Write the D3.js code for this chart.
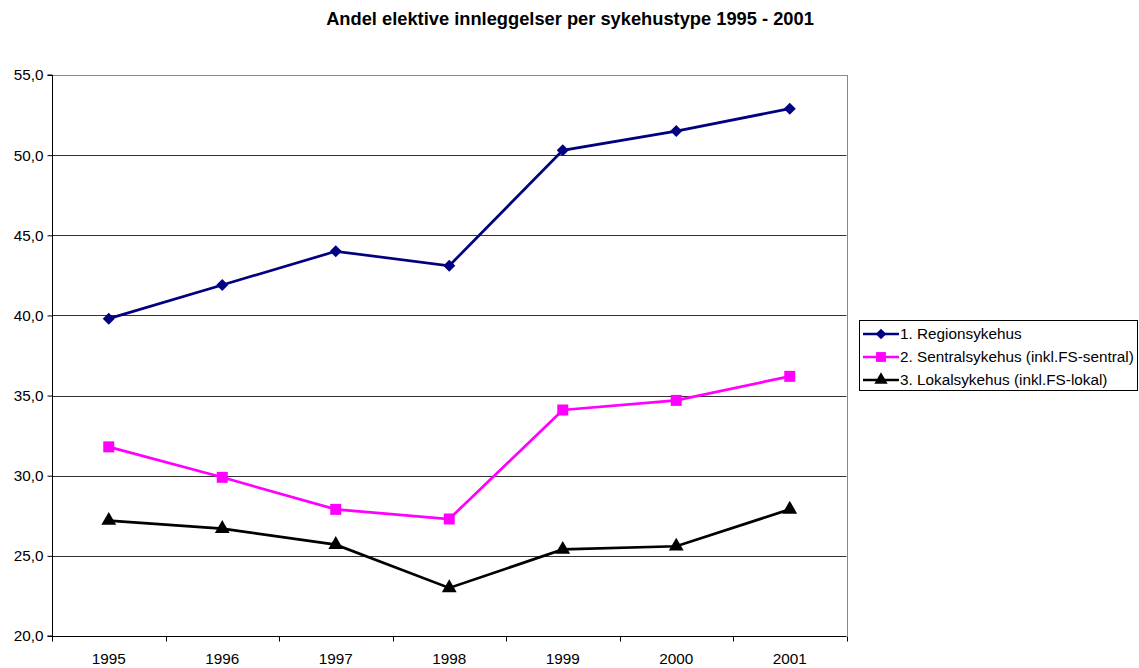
<!DOCTYPE html>
<html><head><meta charset="utf-8">
<script src="https://cdn.jsdelivr.net/npm/d3@7"></script>
<style>body{margin:0;background:#fff}svg{display:block;font-family:Arial,"Liberation Sans",sans-serif}</style>
</head><body><svg id="c" width="1139" height="668"></svg>
<script>
const years = ["1995","1996","1997","1998","1999","2000","2001"];
const region = [39.8, 41.9, 44.0, 43.1, 50.3, 51.5, 52.9];
const sentral = [31.8, 29.9, 27.9, 27.3, 34.1, 34.7, 36.2];
const lokal = [27.2, 26.7, 25.7, 23.0, 25.4, 25.6, 27.9];
const yTicks = [20,25,30,35,40,45,50,55];
const seriesNames = ["1. Regionsykehus","2. Sentralsykehus (inkl.FS-sentral)","3. Lokalsykehus (inkl.FS-lokal)"];
const seriesColors = ["#000080","#FF00FF","#000000"];
const seriesShapes = [d3.symbolSquare, d3.symbolSquare, d3.symbolTriangle];
const seriesRot = [45, 0, 0];
const seriesData = [region, sentral, lokal];

const svg = d3.select("#c");
const L=52, R=846.5, T=75, B=636;
const FS = 15.3;
const x = d3.scaleBand().domain(years).range([L,R]);
const y = d3.scaleLinear().domain([20,55]).range([B,T]);

svg.append("text").attr("x",570).attr("y",25).attr("text-anchor","middle")
  .attr("font-weight","bold").attr("font-size",18.3).text("Andel elektive innleggelser per sykehustype 1995 - 2001");

// gridlines
svg.append("g").selectAll("line").data(yTicks.slice(1)).join("line")
  .attr("x1",L).attr("x2",R).attr("y1",d=>Math.round(y(d))+0.5).attr("y2",d=>Math.round(y(d))+0.5)
  .attr("stroke","#333").attr("stroke-width",1);
svg.append("line").attr("x1",Math.round(R)+0.5).attr("x2",Math.round(R)+0.5).attr("y1",T).attr("y2",B).attr("stroke","#888");
svg.append("line").attr("x1",L).attr("x2",R).attr("y1",T+0.5).attr("y2",T+0.5).attr("stroke","#888");

// y axis
const ya = svg.append("g").attr("transform",`translate(${L+0.5},0)`)
  .call(d3.axisLeft(y).tickValues(yTicks).tickSize(5).tickPadding(4).tickFormat(d=>d3.format(".1f")(d).replace(".",",")));
ya.select(".domain").attr("stroke","#000").attr("d",`M-5,${B}H0V${T}H-5`);
ya.selectAll("text").attr("font-size",FS).attr("font-family","Arial,'Liberation Sans',sans-serif").attr("fill","#000");
ya.selectAll(".tick line").attr("stroke","#000");

// x axis
const xa = svg.append("g").attr("transform",`translate(0,${B+0.5})`);
xa.append("line").attr("x1",L).attr("x2",R).attr("stroke","#000");
const bounds = years.map(d=>x(d)).concat([R]);
xa.selectAll("line.t").data(bounds).join("line").attr("class","t")
  .attr("x1",d=>Math.round(d)+0.5).attr("x2",d=>Math.round(d)+0.5).attr("y1",0).attr("y2",5).attr("stroke","#000");
xa.selectAll("text").data(years).join("text").attr("x",d=>x(d)+x.bandwidth()/2).attr("y",27)
  .attr("text-anchor","middle").attr("font-size",FS).text(d=>d);

const line = d3.line().x((d,i)=>x(years[i])+x.bandwidth()/2).y(d=>y(d));
const sizes=[72,121,95];
seriesData.forEach((s,k)=>{
  svg.append("path").datum(s).attr("d",line).attr("fill","none").attr("stroke",seriesColors[k]).attr("stroke-width",2.7);
  svg.append("g").selectAll("path").data(s).join("path")
    .attr("transform",(d,i)=>`translate(${x(years[i])+x.bandwidth()/2},${y(d)}) rotate(${seriesRot[k]})`)
    .attr("d",d3.symbol().type(seriesShapes[k]).size(sizes[k])).attr("fill",seriesColors[k]);
});

// legend
const lg = svg.append("g");
lg.append("rect").attr("x",859.5).attr("y",320.5).attr("width",278).attr("height",70).attr("fill","#fff").attr("stroke","#000");
seriesNames.forEach((n,k)=>{
  const yy = 334 + k*23;
  lg.append("line").attr("x1",863).attr("x2",899).attr("y1",yy).attr("y2",yy).attr("stroke",seriesColors[k]).attr("stroke-width",2.7);
  lg.append("path").attr("transform",`translate(881,${yy}) rotate(${seriesRot[k]})`).attr("d",d3.symbol().type(seriesShapes[k]).size(sizes[k]*0.8)).attr("fill",seriesColors[k]);
  lg.append("text").attr("x",900).attr("y",yy+5).attr("font-size",FS).text(n);
});
</script></body></html>
